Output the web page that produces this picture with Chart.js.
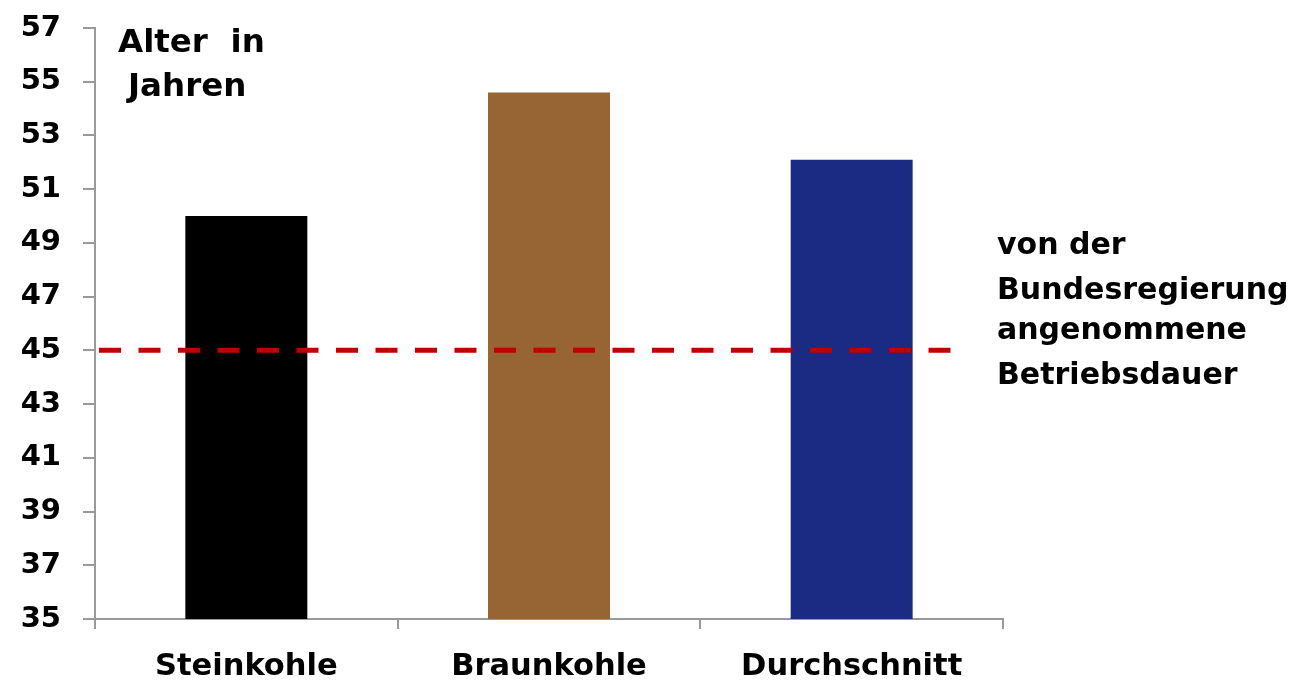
<!DOCTYPE html>
<html>
<head>
<meta charset="utf-8">
<script src="https://cdn.jsdelivr.net/npm/chart.js@4"></script>
<style>
  html, body { margin: 0; padding: 0; background: #fff; }
  #wrap { position: relative; width: 1297px; height: 682px; }
</style>
</head>
<body>
<div id="wrap">
  <canvas id="altersChart" width="1297" height="682"></canvas>
</div>
<script>
// Daten
const categories = ['Steinkohle', 'Braunkohle', 'Durchschnitt'];
const alterJahre = [50.0, 54.6, 52.1];
const barColors = ['#000000', '#976433', '#1b2a82'];
const betriebsdauer = 45;
const yTicks = [35, 37, 39, 41, 43, 45, 47, 49, 51, 53, 55, 57];

const fontFamily = '"DejaVu Sans", sans-serif';

// Hilfslinie "angenommene Betriebsdauer" + Textnotizen
const notesPlugin = {
    id: 'notes',
    afterDatasetsDraw(chart) {
        const ctx = chart.ctx;
        const { chartArea, scales } = chart;
        const y = scales.y.getPixelForValue(betriebsdauer);
        ctx.save();
        ctx.strokeStyle = '#c00000';
        ctx.lineWidth = 5;
        ctx.setLineDash([22, 17.5]);
        ctx.beginPath();
        ctx.moveTo(chartArea.left + 4, y);
        ctx.lineTo(chartArea.right - 48, y);
        ctx.stroke();
        ctx.setLineDash([]);

        ctx.fillStyle = '#000';
        ctx.font = 'bold 32.5px ' + fontFamily;
        ctx.textBaseline = 'middle';
        ctx.textAlign = 'left';
        ctx.fillText('Alter  in', 118, 44);
        ctx.fillText('Jahren', 128, 88);

        ctx.font = 'bold 30px ' + fontFamily;
        const lines = ['von der', 'Bundesregierung', 'angenommene', 'Betriebsdauer'];
        const ys = [246, 291, 331, 376];
        lines.forEach((t, i) => ctx.fillText(t, 997, ys[i]));
        ctx.restore();
    }
};

const ctx = document.getElementById('altersChart').getContext('2d');
new Chart(ctx, {
    type: 'bar',
    data: {
        labels: categories,
        datasets: [{
            data: alterJahre,
            backgroundColor: barColors,
            borderWidth: 0,
            categoryPercentage: 1,
            barPercentage: 0.403
        }]
    },
    options: {
        responsive: false,
        animation: false,
        layout: { padding: { left: 0, right: 294, top: 28, bottom: 0 } },
        plugins: { legend: { display: false }, tooltip: { enabled: false } },
        scales: {
            x: {
                grid: { drawOnChartArea: false, drawTicks: true, tickLength: 10, color: '#999', lineWidth: 2, offset: true },
                border: { color: '#999', width: 2 },
                ticks: { color: '#000', padding: 20, font: { family: fontFamily, size: 30.5, weight: 'bold' } },
                afterFit(scale) { scale.height = 63; scale.paddingLeft = 0; scale.paddingRight = 0; }
            },
            y: {
                min: 35,
                max: 57,
                afterBuildTicks(scale) { scale.ticks = yTicks.map(v => ({ value: v })); },
                grid: { drawOnChartArea: false, drawTicks: true, tickLength: 12, color: '#999', lineWidth: 2 },
                border: { color: '#999', width: 2 },
                ticks: { color: '#000', padding: 22, font: { family: fontFamily, size: 29, weight: 'bold' } },
                afterFit(scale) { scale.width = 95; scale.paddingTop = 0; scale.paddingBottom = 0; }
            }
        }
    },
    plugins: [notesPlugin]
});
</script>
</body>
</html>
